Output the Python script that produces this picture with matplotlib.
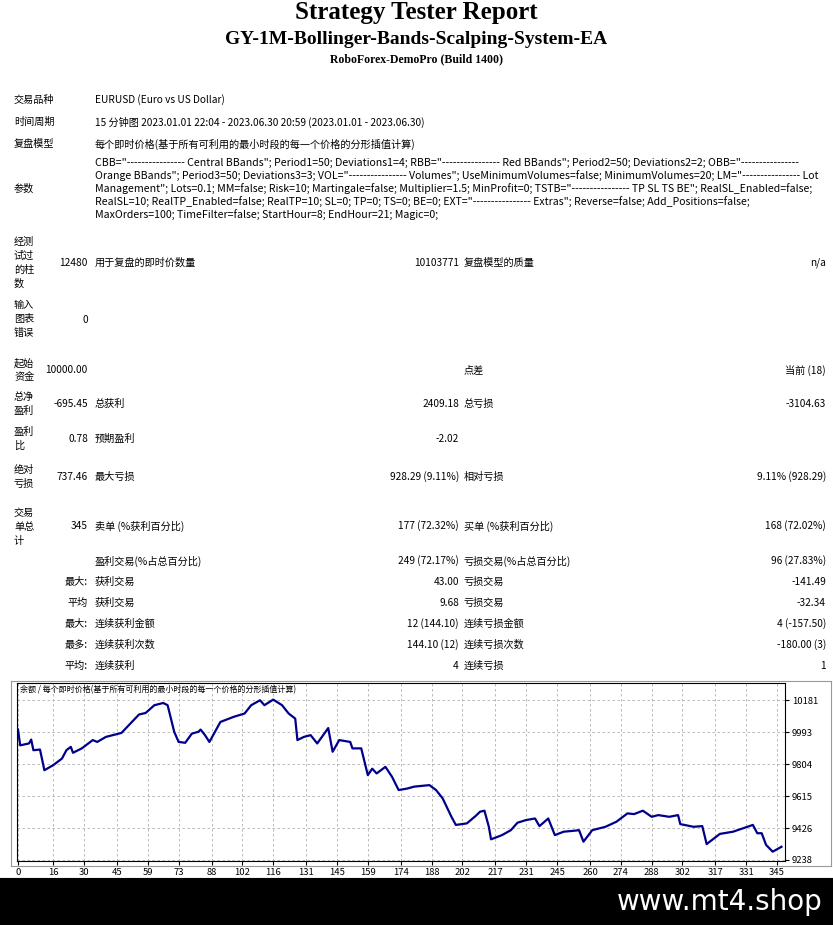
import matplotlib.pyplot as plt

plt.rcParams['font.family'] = ['Noto Sans CJK SC', 'DejaVu Sans']

W, H = 833, 925

# balance curve (trade index, balance)
trade = [0, 1, 5, 6, 7, 10, 12, 16, 20, 22, 24, 25, 29, 34, 36, 40, 47, 55, 58, 62,
         66, 68, 71, 73, 76, 79, 82, 83, 85, 87, 92, 98, 103, 106, 110, 112, 116, 120,
         123, 126, 127, 130, 133, 136, 141, 143, 146, 151, 152, 156, 159, 161, 163, 167,
         170, 173, 177, 180, 187, 190, 193, 197, 199, 204, 208, 210, 212, 214, 215, 220,
         224, 227, 231, 235, 237, 241, 244, 248, 253, 255, 257, 261, 267, 272, 277, 280,
         284, 288, 291, 296, 300, 301, 307, 311, 313, 319, 325, 334, 336, 338, 340, 343, 347]
balance = [10008, 9915, 9926, 9949, 9886, 9890, 9768, 9798, 9837, 9886, 9906, 9871, 9897,
           9946, 9935, 9965, 9988, 10097, 10106, 10152, 10165, 10152, 9995, 9935, 9930,
           9984, 9995, 10008, 9975, 9935, 10053, 10083, 10103, 10152, 10181, 10152, 10185,
           10152, 10103, 10073, 9946, 9965, 9975, 9926, 10017, 9877, 9946, 9935, 9897, 9897,
           9739, 9777, 9749, 9788, 9729, 9651, 9660, 9671, 9680, 9651, 9602, 9493, 9445,
           9454, 9498, 9523, 9529, 9434, 9360, 9385, 9414, 9458, 9474, 9483, 9438, 9483,
           9385, 9405, 9411, 9414, 9346, 9414, 9434, 9464, 9513, 9509, 9529, 9493, 9503,
           9493, 9503, 9450, 9434, 9438, 9332, 9392, 9405, 9445, 9396, 9396, 9327, 9287, 9316]
xticks = [0, 16, 30, 45, 59, 73, 88, 102, 116, 131, 145, 159, 174, 188, 202, 217, 231, 245,
          260, 274, 288, 302, 317, 331, 345]
yticks = [9238, 9426, 9615, 9804, 9993, 10181]

params = [
    'CBB="---------------- Central BBands"; Period1=50; Deviations1=4; RBB="---------------- Red BBands"; Period2=50; Deviations2=2; OBB="----------------',
    'Orange BBands"; Period3=50; Deviations3=3; VOL="---------------- Volumes"; UseMinimumVolumes=false; MinimumVolumes=20; LM="---------------- Lot',
    'Management"; Lots=0.1; MM=false; Risk=10; Martingale=false; Multiplier=1.5; MinProfit=0; TSTB="---------------- TP SL TS BE"; RealSL_Enabled=false;',
    'RealSL=10; RealTP_Enabled=false; RealTP=10; SL=0; TP=0; TS=0; BE=0; EXT="---------------- Extras"; Reverse=false; Add_Positions=false;',
    'MaxOrders=100; TimeFilter=false; StartHour=8; EndHour=21; Magic=0;',
]

fig = plt.figure(figsize=(W / 100, H / 100), dpi=100)
fs = 7.3


def t(x, y, s, ha='left', **kw):
    kw.setdefault('fontsize', fs)
    fig.text(x / W, 1 - y / H, s, ha=ha, va='center', **kw)


serif = ['Liberation Serif', 'DejaVu Serif']
t(W / 2, 13, 'Strategy Tester Report', ha='center', fontsize=18, weight='bold', family=serif)
t(W / 2, 39, 'GY-1M-Bollinger-Bands-Scalping-System-EA', ha='center', fontsize=14, weight='bold', family=serif)
t(W / 2, 59, 'RoboForex-DemoPro (Build 1400)', ha='center', fontsize=8.5, weight='bold', family=serif)

t(14, 100, '交易品种'); t(95, 100, 'EURUSD (Euro vs US Dollar)')
t(14, 122, '时间周期'); t(95, 122, '15 分钟图 2023.01.01 22:04 - 2023.06.30 20:59 (2023.01.01 - 2023.06.30)')
t(14, 144, '复盘模型'); t(95, 144, '每个即时价格(基于所有可利用的最小时段的每一个价格的分形插值计算)')
for i, line in enumerate(params):
    t(95, 163 + 13 * i, line, fontsize=7.6)
t(14, 189, '参数')


def stack(y0, chars):
    for i, c in enumerate(chars):
        t(14, y0 + 14 * i, c)


stack(242, ['经测', '试过', '的柱', '数'])
t(88, 263, '12480', ha='right'); t(95, 263, '用于复盘的即时价数量')
t(459, 263, '10103771', ha='right'); t(464, 263, '复盘模型的质量'); t(826, 263, 'n/a', ha='right')

stack(305, ['输入', '图表', '错误'])
t(88, 320, '0', ha='right')

stack(363, ['起始', '资金'])
t(45, 370, '10000.00'); t(464, 370, '点差'); t(826, 370, '当前 (18)', ha='right')

rows = [
    (404, ['总净', '盈利'], '-695.45', '总获利', '2409.18', '总亏损', '-3104.63'),
    (439, ['盈利', '比'], '0.78', '预期盈利', '-2.02', '', ''),
    (477, ['绝对', '亏损'], '737.46', '最大亏损', '928.29 (9.11%)', '相对亏损', '9.11% (928.29)'),
]
for y, lab, v, a, av, b, bv in rows:
    stack(y - 7, lab)
    t(88, y, v, ha='right'); t(95, y, a); t(459, y, av, ha='right')
    t(464, y, b); t(826, y, bv, ha='right')

stack(513, ['交易', '单总', '计'])
t(88, 526, '345', ha='right'); t(95, 526, '卖单 (%获利百分比)'); t(459, 526, '177 (72.32%)', ha='right')
t(464, 526, '买单 (%获利百分比)'); t(826, 526, '168 (72.02%)', ha='right')

lower = [
    (561, '', '盈利交易(%占总百分比)', '249 (72.17%)', '亏损交易(%占总百分比)', '96 (27.83%)'),
    (582, '最大:', '获利交易', '43.00', '亏损交易', '-141.49'),
    (603, '平均', '获利交易', '9.68', '亏损交易', '-32.34'),
    (624, '最大:', '连续获利金额', '12 (144.10)', '连续亏损金额', '4 (-157.50)'),
    (645, '最多:', '连续获利次数', '144.10 (12)', '连续亏损次数', '-180.00 (3)'),
    (666, '平均:', '连续获利', '4', '连续亏损', '1'),
]
for y, lab, a, av, b, bv in lower:
    t(88, y, lab, ha='right'); t(95, y, a); t(459, y, av, ha='right')
    t(464, y, b); t(826, y, bv, ha='right')

# chart frame
frame = fig.add_axes([11 / W, 1 - 866 / H, 820 / W, 185 / H])
frame.set_xticks([]); frame.set_yticks([])
for s in frame.spines.values():
    s.set_color('#999999'); s.set_linewidth(0.8)

ax = fig.add_axes([17 / W, 1 - 861 / H, 768 / W, 178 / H])
ax.plot(trade, balance, color='#00008B', lw=1.6)
ax.set_xlim(-0.45, 348.6)
ax.set_ylim(9232, 10283)
ax.set_xticks(xticks)
ax.set_yticks(yticks)
ax.yaxis.tick_right()
ax.tick_params(labelsize=6.8, length=3, pad=2)
ax.grid(True, color='#b0b0b0', ls=(0, (3, 3)), lw=0.6)
for s in ax.spines.values():
    s.set_linewidth(0.8)
ax.text(0.004, 0.965, '余额 / 每个即时价格(基于所有可利用的最小时段的每一个价格的分形插值计算)',
        transform=ax.transAxes, fontsize=5.8, va='center')

# footer bar
bar = fig.add_axes([0, 0, 1, 47 / H])
bar.set_facecolor('black')
bar.set_xticks([]); bar.set_yticks([])
bar.text(0.987, 0.5, 'www.mt4.shop', color='white', fontsize=20, ha='right', va='center',
         transform=bar.transAxes, family=['DejaVu Sans'])

fig.savefig('out.png', dpi=100)
